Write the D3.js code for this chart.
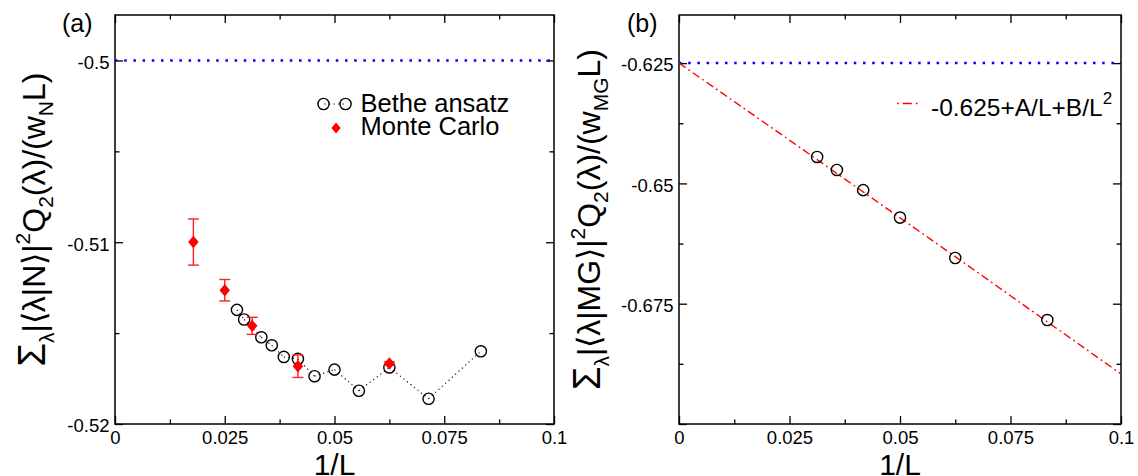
<!DOCTYPE html>
<html><head><meta charset="utf-8">
<script src="https://cdn.jsdelivr.net/npm/d3@7/dist/d3.min.js"></script>
<style>
html,body{margin:0;padding:0;background:#fff;}
svg{display:block;font-family:"Liberation Sans",Arial,Helvetica,sans-serif;}
</style></head>
<body>
<svg id="c" width="1138" height="476"></svg>
<script>
// ---------- data ----------
// Panel (a): Bethe ansatz (1/L, value)
const betheX = [1/36, 1/34, 1/30, 1/28, 1/26, 1/24, 1/22, 1/20, 1/18, 1/16, 1/14, 1/12];
const betheY = [-0.51372, -0.51425, -0.51523, -0.51567, -0.51631, -0.51642, -0.51737, -0.51701, -0.51817, -0.51689, -0.51861, -0.51600];
// Panel (a): Monte Carlo with error bars
const mcX = [1/56, 1/40, 1/32, 1/24, 1/16];
const mcY = [-0.50999, -0.51264, -0.51460, -0.51682, -0.51667];
const mcErr = [0.00127, 0.00059, 0.00047, 0.00062, 0.0001];
// Panel (b): Bethe ansatz values
const bX = [1/32, 1/28, 1/24, 1/20, 1/16, 1/12];
const bY = [-0.6445, -0.6472, -0.6514, -0.6571, -0.6655, -0.6784];
// Panel (b): fit curve -0.625 + A/L + B/L^2
const fitX = [0, 0.02, 0.04, 0.06, 0.08, 0.1];
const fitY = [-0.625, -0.6378, -0.6507, -0.6636, -0.6766, -0.6896];
// reference (asymptotic) lines
const refA = -0.5;
const refB = -0.625;
// ticks
const xMajor = [0, 0.025, 0.05, 0.075, 0.1];
const xMajorLabels = ["0", "0.025", "0.05", "0.075", "0.1"];
const xMinor = [0.0125, 0.0375, 0.0625, 0.0875];
const yaMajor = [-0.52, -0.51, -0.5];
const yaMajorLabels = ["-0.52", "-0.51", "-0.5"];
const yaMinor = [-0.515, -0.505];
const ybMajor = [-0.7, -0.675, -0.65, -0.625];
const ybMajorLabels = ["", "-0.675", "-0.65", "-0.625"];
const ybMinor = [-0.6875, -0.6625, -0.6375];

// ---------- layout ----------
const svg = d3.select("#c");
const FONT_TICK = 18.5;

function panel(o) {
  const x = d3.scaleLinear().domain([0, 0.1]).range([o.left, o.right]);
  const y = d3.scaleLinear().domain(o.ydom).range([o.bottom, o.top]);
  const g = svg.append("g");

  const cid = "clip" + o.name;
  svg.append("clipPath").attr("id", cid).append("rect")
    .attr("x", o.left).attr("y", o.top).attr("width", o.right - o.left).attr("height", o.bottom - o.top);

  const styleAxis = sel => {
    sel.select(".domain").remove();
    sel.selectAll("line").attr("stroke", "#000").attr("stroke-width", 1.3);
    sel.selectAll("text").attr("font-size", FONT_TICK).attr("fill", "#000")
      .attr("font-family", '"Liberation Sans",Arial,sans-serif');
  };
  const labFmt = (vals, labs) => (d) => labs[vals.indexOf(d)];

  g.append("g").attr("transform", `translate(0,${o.bottom})`)
    .call(d3.axisBottom(x).tickValues(xMajor).tickFormat(labFmt(xMajor, xMajorLabels)).tickSizeInner(-8).tickSizeOuter(0).tickPadding(7))
    .call(styleAxis);
  g.append("g").attr("transform", `translate(0,${o.bottom})`)
    .call(d3.axisBottom(x).tickValues(xMinor).tickFormat("").tickSizeInner(-4.5).tickSizeOuter(0))
    .call(styleAxis);
  g.append("g").attr("transform", `translate(0,${o.top})`)
    .call(d3.axisTop(x).tickValues(xMajor).tickFormat("").tickSizeInner(-8).tickSizeOuter(0))
    .call(styleAxis);
  g.append("g").attr("transform", `translate(0,${o.top})`)
    .call(d3.axisTop(x).tickValues(xMinor).tickFormat("").tickSizeInner(-4.5).tickSizeOuter(0))
    .call(styleAxis);
  g.append("g").attr("transform", `translate(${o.left},0)`)
    .call(d3.axisLeft(y).tickValues(o.yMajor).tickFormat(labFmt(o.yMajor, o.yLabels)).tickSizeInner(-8).tickSizeOuter(0).tickPadding(5.5))
    .call(styleAxis)
    .selectAll("text").attr("dy", "0.42em");
  g.append("g").attr("transform", `translate(${o.left},0)`)
    .call(d3.axisLeft(y).tickValues(o.yMinor).tickFormat("").tickSizeInner(-4.5).tickSizeOuter(0))
    .call(styleAxis);
  g.append("g").attr("transform", `translate(${o.right},0)`)
    .call(d3.axisRight(y).tickValues(o.yMajor).tickFormat("").tickSizeInner(-8).tickSizeOuter(0))
    .call(styleAxis);
  g.append("g").attr("transform", `translate(${o.right},0)`)
    .call(d3.axisRight(y).tickValues(o.yMinor).tickFormat("").tickSizeInner(-4.5).tickSizeOuter(0))
    .call(styleAxis);

  g.append("rect").attr("x", o.left).attr("y", o.top)
    .attr("width", o.right - o.left).attr("height", o.bottom - o.top)
    .attr("fill", "none").attr("stroke", "#000").attr("stroke-width", 1.5);

  g.append("text").attr("x", (o.left + o.right) / 2).attr("y", 475)
    .attr("text-anchor", "middle").attr("font-size", 30).text("1/L");

  g.append("text").attr("x", o.tagX).attr("y", 32).attr("font-size", 25).text(o.tag);

  const yt = g.append("text")
    .attr("transform", `translate(${o.ytX},${(o.top + o.bottom) / 2}) rotate(-90)`)
    .attr("text-anchor", "middle").attr("font-size", 32);
  const parts = [
    ["\u03A3", 38, 0], ["\u03BB", 21, -9], ["|\u27E8\u03BB|" + o.ket + "\u27E9|", 32, 0],
    ["2", 21, 15], ["Q", 32, 0], ["2", 21, -8], ["(\u03BB)/(w", 32, 0],
    [o.ket, 21, -8], ["L)", 32, 0]
  ];
  parts.forEach(p => {
    yt.append("tspan").attr("font-size", p[1]).attr("baseline-shift", p[2]).text(p[0]);
  });

  return {x, y, g, clip: `url(#${cid})`};
}

// ---------- panel (a) ----------
const A = panel({name: "a", left: 115, right: 554, top: 15, bottom: 424, ydom: [-0.52, -0.4975],
  yMajor: yaMajor, yLabels: yaMajorLabels, yMinor: yaMinor, tag: "(a)", tagX: 62, ytX: 45, ket: "N"});

A.g.append("line").attr("clip-path", A.clip)
  .attr("x1", A.x(0)).attr("x2", A.x(0.1)).attr("y1", A.y(refA)).attr("y2", A.y(refA))
  .attr("stroke", "#0000ff").attr("stroke-width", 2.5).attr("stroke-dasharray", "2.5,6.7");

const betheA = betheX.map((v, i) => [v, betheY[i]]);
for (let i = 0; i < betheA.length - 1; i++) {
  A.g.append("line")
    .attr("x1", A.x(betheA[i][0])).attr("y1", A.y(betheA[i][1]))
    .attr("x2", A.x(betheA[i + 1][0])).attr("y2", A.y(betheA[i + 1][1]))
    .attr("stroke", "#000").attr("stroke-width", 1.1).attr("stroke-dasharray", "1.2,3.3");
}
A.g.selectAll("circle.ba").data(betheA).join("circle").attr("class", "ba")
  .attr("cx", d => A.x(d[0])).attr("cy", d => A.y(d[1])).attr("r", 5.6)
  .attr("fill", "none").attr("stroke", "#000").attr("stroke-width", 1.4);

const mc = mcX.map((v, i) => ({x: v, y: mcY[i], e: mcErr[i]}));
const eb = A.g.selectAll("g.eb").data(mc).join("g").attr("class", "eb")
  .attr("stroke", "#f22").attr("stroke-width", 1.4);
eb.append("line").attr("x1", d => A.x(d.x)).attr("x2", d => A.x(d.x))
  .attr("y1", d => A.y(d.y - d.e)).attr("y2", d => A.y(d.y + d.e));
eb.append("line").attr("x1", d => A.x(d.x) - 5.5).attr("x2", d => A.x(d.x) + 5.5)
  .attr("y1", d => A.y(d.y - d.e)).attr("y2", d => A.y(d.y - d.e));
eb.append("line").attr("x1", d => A.x(d.x) - 5.5).attr("x2", d => A.x(d.x) + 5.5)
  .attr("y1", d => A.y(d.y + d.e)).attr("y2", d => A.y(d.y + d.e));
const diamond = (cx, cy, s) => `M${cx},${cy - s}L${cx + s * 0.85},${cy}L${cx},${cy + s}L${cx - s * 0.85},${cy}Z`;
A.g.selectAll("path.mc").data(mc).join("path").attr("class", "mc")
  .attr("d", d => diamond(A.x(d.x), A.y(d.y), 6.2)).attr("fill", "#ff0000");

// legend (a)
{
  const lx = 115 + (554 - 115) * 0.475, ly = 104;
  A.g.append("line").attr("x1", lx).attr("x2", lx + 22).attr("y1", ly).attr("y2", ly)
    .attr("stroke", "#000").attr("stroke-width", 1.1).attr("stroke-dasharray", "1.2,3.3").attr("stroke-dashoffset", -1);
  [lx, lx + 22].forEach(cx => A.g.append("circle").attr("cx", cx).attr("cy", ly).attr("r", 5.6)
    .attr("fill", "none").attr("stroke", "#000").attr("stroke-width", 1.4));
  A.g.append("path").attr("d", diamond(lx + 12.5, ly + 24, 5.5)).attr("fill", "#ff0000");
  A.g.append("text").attr("x", lx + 37).attr("y", ly + 7.5).attr("font-size", 25.5).text("Bethe ansatz");
  A.g.append("text").attr("x", lx + 37).attr("y", ly + 31).attr("font-size", 25.5).text("Monte Carlo");
}

// ---------- panel (b) ----------
const B = panel({name: "b", left: 679, right: 1121, top: 15, bottom: 424, ydom: [-0.7, -0.615],
  yMajor: ybMajor, yLabels: ybMajorLabels, yMinor: ybMinor, tag: "(b)", tagX: 627, ytX: 600, ket: "MG"});

B.g.append("line").attr("clip-path", B.clip)
  .attr("x1", B.x(0)).attr("x2", B.x(0.1)).attr("y1", B.y(refB)).attr("y2", B.y(refB))
  .attr("stroke", "#0000ff").attr("stroke-width", 2.5).attr("stroke-dasharray", "2.5,6.7");

const fit = fitX.map((v, i) => [v, fitY[i]]);
B.g.append("path").attr("clip-path", B.clip)
  .attr("d", d3.line().x(d => B.x(d[0])).y(d => B.y(d[1])).curve(d3.curveMonotoneX)(fit))
  .attr("fill", "none").attr("stroke", "#ff0000").attr("stroke-width", 1.4).attr("stroke-dasharray", "8,3.5,1.8,3.5");

const bb = bX.map((v, i) => [v, bY[i]]);
B.g.selectAll("circle.bb").data(bb).join("circle").attr("class", "bb")
  .attr("cx", d => B.x(d[0])).attr("cy", d => B.y(d[1])).attr("r", 5.6)
  .attr("fill", "none").attr("stroke", "#000").attr("stroke-width", 1.4);

// legend (b)
{
  const lx = 897, ly = 103.5;
  B.g.append("line").attr("x1", lx).attr("x2", lx + 22).attr("y1", ly).attr("y2", ly)
    .attr("stroke", "#ff0000").attr("stroke-width", 1.4).attr("stroke-dasharray", "1.8,4,9,4");
  const t = B.g.append("text").attr("x", lx + 34).attr("y", ly + 12).attr("font-size", 24.5);
  t.append("tspan").text("-0.625+A/L+B/L");
  t.append("tspan").attr("font-size", 17).attr("baseline-shift", 12).text("2");
}
</script>
</body></html>
